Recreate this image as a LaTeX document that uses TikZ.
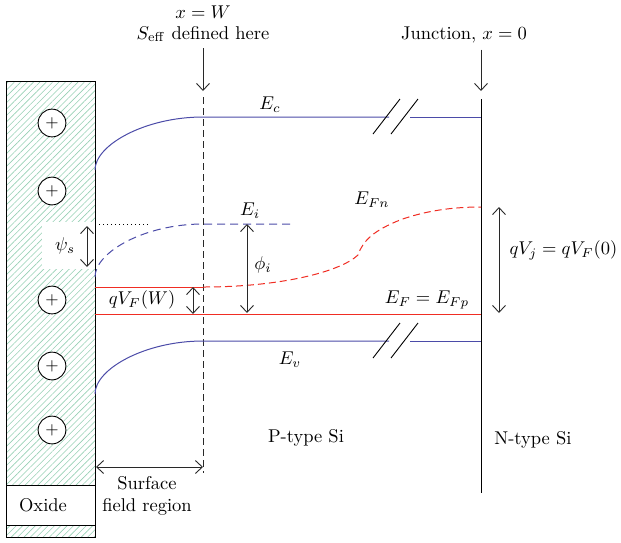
\documentclass[tikz,border=0pt]{standalone}
\usetikzlibrary{arrows.meta, patterns.meta}

\definecolor{bandblue}{RGB}{75,75,168}
\definecolor{fermired}{RGB}{240,45,35}
\definecolor{hatchgreen}{RGB}{150,208,180}
\definecolor{arrowgray}{RGB}{40,40,40}

\tikzset{
  band/.style={bandblue, line width=1pt},
  fermi/.style={fermired, line width=1pt},
  dimarrow/.style={arrowgray, line width=0.9pt, {Straight Barb[length=7pt,width=13pt]}-{Straight Barb[length=7pt,width=13pt]}},
  pointer/.style={arrowgray, line width=0.9pt, -{Straight Barb[length=7pt,width=13pt]}},
  brk/.style={black, line width=0.9pt},
  chargenode/.style={circle, draw, fill=white, line width=0.9pt, inner sep=0pt, minimum size=15pt, font=\small},
}

\begin{document}
\begin{tikzpicture}[x=1pt, y=-1pt, every node/.style={scale=1.85}]
    \useasboundingbox (0,0) rectangle (621,542);

    % Oxide
    \fill[pattern={Lines[angle=45, distance=4.5pt, line width=0.6pt]}, pattern color=hatchgreen] (6,81) rectangle (95,537);
    \draw[line width=1pt] (6,81) rectangle (95,537);
    \draw[line width=1pt, fill=white] (6,485) rectangle (95,525);
    \node (oxide) at (43,505) {Oxide};
    \fill[white] (42,222) rectangle (94.5,269);

    % Charges
    \foreach \cy [count=\i] in {123,191,300,366,430}
        \node[chargenode] (q\i) at (52,\cy) {$+$};

    % Reference lines
    \coordinate (wtop) at (203,97);
    \coordinate (wbot) at (203,473);
    \coordinate (jtop) at (481,99);
    \coordinate (jbot) at (481,493);
    \draw[arrowgray, line width=0.9pt, dash pattern=on 7pt off 4pt] (wtop) -- (wbot);
    \draw[line width=1pt] (jtop) -- (jbot);

    % Top labels
    \node (wlab) at (203,12) {$x = W$};
    \node (seff) at (203,34) {$S_{\mathrm{eff}}$ defined here};
    \node (junc) at (464,35) {Junction, $x = 0$};
    \coordinate (wtip) at (203,91);
    \coordinate (jtip) at (481,91);
    \draw[pointer] (seff.south) -- (wtip);
    \draw[pointer] (junc.south -| jtip) -- (jtip);

    % Conduction and valence bands
    \foreach \ey in {117,341} {
        \draw[band] (95,{\ey+53}) .. controls (95,{\ey+28}) and (145,\ey) .. (203,\ey) -- (389,\ey);
        \draw[band] (410,\ey) -- (481,\ey);
        \draw[brk] (373,{\ey+17}) -- (400,{\ey-18});
        \draw[brk] (391,{\ey+17}) -- (418,{\ey-18});
    }

    % Intrinsic level
    \draw[band, dash pattern=on 8pt off 5pt] (95,277) .. controls (95,252) and (145,224) .. (203,224) -- (293,224);
    \draw[black, line width=0.8pt, dash pattern=on 1pt off 3pt] (95,224) -- (150,224);

    % Fermi levels
    \draw[fermi] (95,314) -- (481,314);
    \draw[fermi] (95,287) -- (203,287);
    \draw[fermi, dash pattern=on 7pt off 4pt] (203,287) .. controls (280,287) and (340,272) .. (358,255)
        .. controls (363,240) and (375,230) .. (400,220) .. controls (430,209) and (460,207) .. (481,207);

    % Arrows
    \coordinate (psitop) at (87,226);
    \coordinate (psibot) at (87,267);
    \coordinate (phitop) at (247,224);
    \coordinate (phibot) at (247,313);
    \coordinate (vwtop) at (193,287);
    \coordinate (vwbot) at (193,314);
    \coordinate (vjtop) at (499,207);
    \coordinate (vjbot) at (499,313);
    \coordinate (sfleft) at (96,467);
    \coordinate (sfright) at (203,467);
    \draw[dimarrow] (psitop) -- (psibot);
    \draw[dimarrow] (phitop) -- (phibot);
    \draw[dimarrow] (vwtop) -- (vwbot);
    \draw[dimarrow] (vjtop) -- (vjbot);
    \draw[dimarrow] (sfleft) -- (sfright);

    % Labels
    \node (ec) at (270,105) {$E_c$};
    \node (ei) at (250,211) {$E_i$};
    \node (ev) at (290,360) {$E_v$};
    \node (efn) at (372,200) {$E_{Fn}$};
    \node (efp) at (427,300) {$E_F = E_{Fp}$};
    \node (psis) at (65,246) {$\psi_s$};
    \node (phii) at (263,265) {$\phi_i$};
    \node (vfw) at (142,300) {$qV_F(W)$};
    \node[anchor=west] (vj) at (503,250) {$qV_j = qV_F(0)$};
    \node[align=center] (sfr) at (147,496) {Surface\\field region};
    \node (ptype) at (306,438) {P-type Si};
    \node (ntype) at (533,440) {N-type Si};
\end{tikzpicture}
\end{document}
